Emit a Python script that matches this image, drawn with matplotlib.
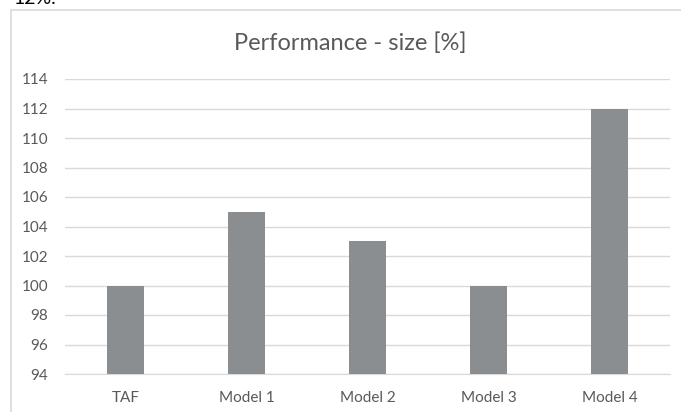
import matplotlib.pyplot as plt
from matplotlib.patches import Rectangle

# valeurs du graphique
categories = ["TAF", "Model 1", "Model 2", "Model 3", "Model 4"]
valeurs = [100, 105, 103, 100, 112]
graduations = list(range(94, 115, 2))

plt.rcParams['font.family'] = ['Lato', 'DejaVu Sans']

W, H = 681, 412
fig = plt.figure(figsize=(W / 100, H / 100), dpi=100)

# cadre du graphique (coupé à droite et en bas)
cadre = Rectangle((11 / W, -0.1), 1.0, 1 - 10 / H + 0.1, transform=fig.transFigure,
                  fill=False, edgecolor="#d9d9d9", linewidth=1.2)
fig.patches.append(cadre)

# bout de texte du document au-dessus
fig.text(13 / W, 1 - 4 / H, "12%.", fontsize=14, color="black", va="baseline")

ax = fig.add_axes([65 / W, 38 / H, (670 - 65) / W, (374 - 79) / H])
x = range(len(categories))
ax.bar(x, valeurs, width=0.31, color="#8b8e90", zorder=3)
ax.set_ylim(94, 114)
ax.set_xlim(-0.5, len(categories) - 0.5)
ax.set_yticks(graduations)
ax.set_xticks(list(x))
ax.set_xticklabels(categories)
ax.grid(axis="y", color="#d9d9d9", linewidth=1, zorder=0)
for s in ["top", "right", "left"]:
    ax.spines[s].set_visible(False)
ax.spines["bottom"].set_color("#d9d9d9")
ax.tick_params(length=0, labelsize=11, colors="#595959")
ax.tick_params(axis="y", pad=12)
ax.tick_params(axis="x", pad=12)

fig.text(350 / W, 1 - 43 / H, "Performance - size [%]", fontsize=17, color="#595959",
         ha="center", va="center")

fig.savefig("out.png", dpi=100)
